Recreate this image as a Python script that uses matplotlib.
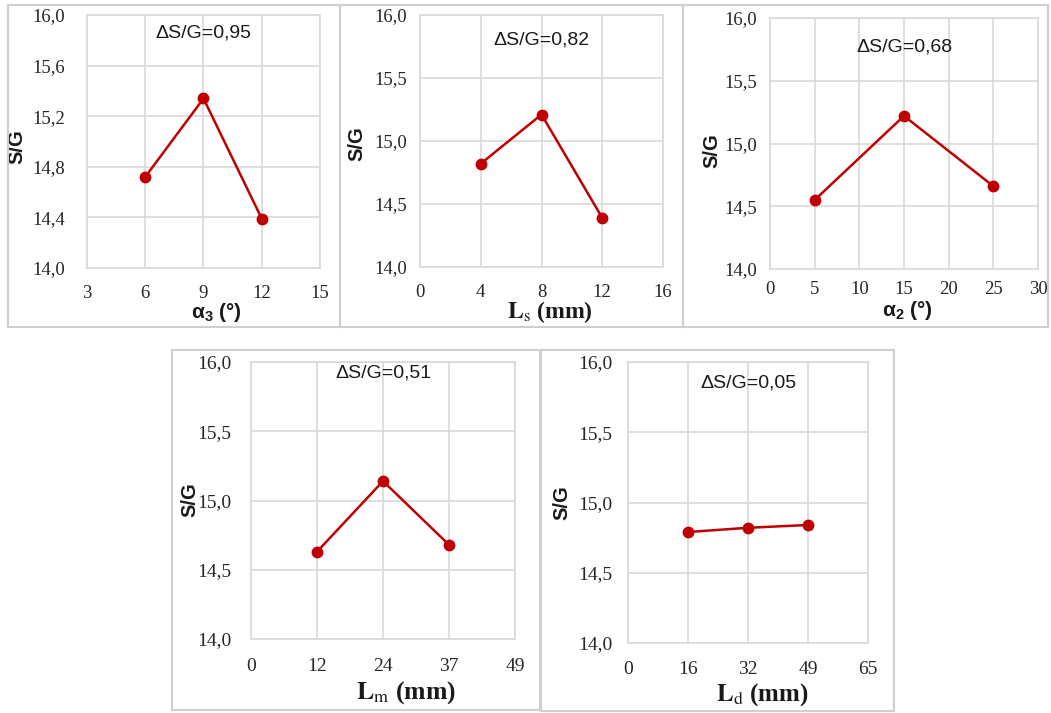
import matplotlib
matplotlib.use('Agg')
import matplotlib.pyplot as plt
from matplotlib.patches import Rectangle

W, H = 1051, 713

# main effects of the factors on S/G
x_a3 = [6, 9, 12]
sg_a3 = [14.72, 15.34, 14.39]
x_ls = [4, 8, 12]
sg_ls = [14.82, 15.21, 14.39]
x_a2 = [5, 15, 25]
sg_a2 = [14.55, 15.22, 14.66]
x_lm = [12.25, 24.5, 36.75]
sg_lm = [14.63, 15.14, 14.68]
x_ld = [16.25, 32.5, 48.75]
sg_ld = [14.79, 14.82, 14.84]

deltas = ['0,95', '0,82', '0,68', '0,51', '0,05']

xt_a3 = [3, 6, 9, 12, 15]
xt_ls = [0, 4, 8, 12, 16]
xt_a2 = [0, 5, 10, 15, 20, 25, 30]
xt_lm = [0, 12.25, 24.5, 36.75, 49]
xl_lm = ['0', '12', '24', '37', '49']
xt_ld = [0, 16.25, 32.5, 48.75, 65]
xl_ld = ['0', '16', '32', '49', '65']

yt_a3 = [14.0, 14.4, 14.8, 15.2, 15.6, 16.0]
yt_half = [14.0, 14.5, 15.0, 15.5, 16.0]

RED = '#C00000'
GRID = '#D9D9D9'
SERIF = 'Liberation Serif'
SANS = ['Liberation Sans', 'DejaVu Sans']

plt.rcParams['mathtext.fontset'] = 'custom'
plt.rcParams['mathtext.rm'] = 'Liberation Sans:bold'
plt.rcParams['mathtext.bf'] = 'Liberation Sans:bold'
plt.rcParams['mathtext.it'] = 'Liberation Sans:bold'

fig = plt.figure(figsize=(W / 100, H / 100), dpi=100)


def fx(px):
    return px / W


def fy(py):
    return 1 - py / H


# panel frames (pixel boxes)
for (x0, y0, x1, y1) in [(8, 5, 340, 327), (340, 5, 683, 327), (683, 5, 1048, 327),
                         (172, 350, 540, 710), (541, 350, 894, 711)]:
    fig.patches.append(Rectangle((fx(x0), fy(y1)), fx(x1 - x0), (y1 - y0) / H,
                                 transform=fig.transFigure, fill=False,
                                 edgecolor='#CFCFCF', linewidth=1.5))

panels = [
    dict(box=(87, 15, 320, 268), x=x_a3, y=sg_a3, xt=xt_a3, xl=None, yt=yt_a3,
         xlabel=r'$\mathbf{\alpha_3}$ (°)', xl_font='sans', xl_size=15, xl_pos=(216, 313),
         yl_pos=(17, 147), ty=0.929, ypad=16, xpad=12, tsize=13.5),
    dict(box=(420, 15, 663, 267), x=x_ls, y=sg_ls, xt=xt_ls, xl=None, yt=yt_half,
         xlabel=r'$\mathbf{L}_\mathrm{s}$ (mm)', xl_font='serif', xl_size=17, xl_pos=(550, 312),
         yl_pos=(357, 144), ty=0.90, ypad=9, xpad=12, tsize=13.5),
    dict(box=(770, 18, 1038, 269), x=x_a2, y=sg_a2, xt=xt_a2, xl=None, yt=yt_half,
         xlabel=r'$\mathbf{\alpha_2}$ (°)', xl_font='sans', xl_size=15, xl_pos=(907, 311),
         yl_pos=(712, 151), ty=0.885, ypad=9, xpad=8.5, tsize=13.5),
    dict(box=(251, 362, 515, 639), x=x_lm, y=sg_lm, xt=xt_lm, xl=xl_lm, yt=yt_half,
         xlabel=r'$\mathbf{L}_\mathrm{m}$ (mm)', xl_font='serif', xl_size=18.5, xl_pos=(406, 693),
         yl_pos=(190, 500), ty=0.96, ypad=14, xpad=14, tsize=14),
    dict(box=(628, 362, 868, 643), x=x_ld, y=sg_ld, xt=xt_ld, xl=xl_ld, yt=yt_half,
         xlabel=r'$\mathbf{L}_\mathrm{d}$ (mm)', xl_font='serif', xl_size=18, xl_pos=(762, 695),
         yl_pos=(562, 503), ty=0.925, ypad=11.5, xpad=13, tsize=14),
]

for p, d in zip(panels, deltas):
    l, t, r, b = p['box']
    ax = fig.add_axes([fx(l), fy(b), (r - l) / W, (b - t) / H])
    ax.plot(p['x'], p['y'], color=RED, linewidth=1.8, marker='o', markersize=7.5,
            zorder=3, clip_on=False)
    ax.set_xlim(p['xt'][0], p['xt'][-1])
    ax.set_ylim(14.0, 16.0)
    ax.set_xticks(p['xt'])
    if p['xl'] is not None:
        ax.set_xticklabels(p['xl'])
    ax.set_yticks(p['yt'])
    ax.set_yticklabels([f'{v:.1f}'.replace('.', ',') for v in p['yt']])
    ax.grid(True, color=GRID, linewidth=1.2)
    ax.set_axisbelow(True)
    for s in ax.spines.values():
        s.set_color(GRID)
        s.set_linewidth(1.2)
    ax.tick_params(length=0, colors='#262626', labelsize=p['tsize'])
    ax.tick_params(axis='y', pad=p['ypad'])
    ax.tick_params(axis='x', pad=p['xpad'])
    for lab in ax.get_xticklabels() + ax.get_yticklabels():
        lab.set_fontfamily(SERIF)

    ax.text(0.5, p['ty'], 'ΔS/G=' + d, transform=ax.transAxes, ha='center', va='center',
            fontsize=14, family=SANS, color='#1a1a1a')

    ax.set_ylabel('S/G', fontsize=14.5, fontweight='bold', family=SANS, color='#1a1a1a')
    ax.yaxis.set_label_coords(fx(p['yl_pos'][0]), fy(p['yl_pos'][1]), transform=fig.transFigure)
    ax.yaxis.label.set_va('center')
    ax.yaxis.label.set_ha('center')

    if p['xl_font'] == 'serif':
        ax.set_xlabel(p['xlabel'], fontsize=p['xl_size'], fontweight='bold', family=SERIF,
                      math_fontfamily='stix', color='#1a1a1a')
    else:
        ax.set_xlabel(p['xlabel'], fontsize=p['xl_size'], fontweight='bold', family=SANS,
                      math_fontfamily='custom', color='#1a1a1a')
    ax.xaxis.set_label_coords(fx(p['xl_pos'][0]), fy(p['xl_pos'][1]), transform=fig.transFigure)
    ax.xaxis.label.set_va('center')

fig.savefig('out.png', dpi=100)
